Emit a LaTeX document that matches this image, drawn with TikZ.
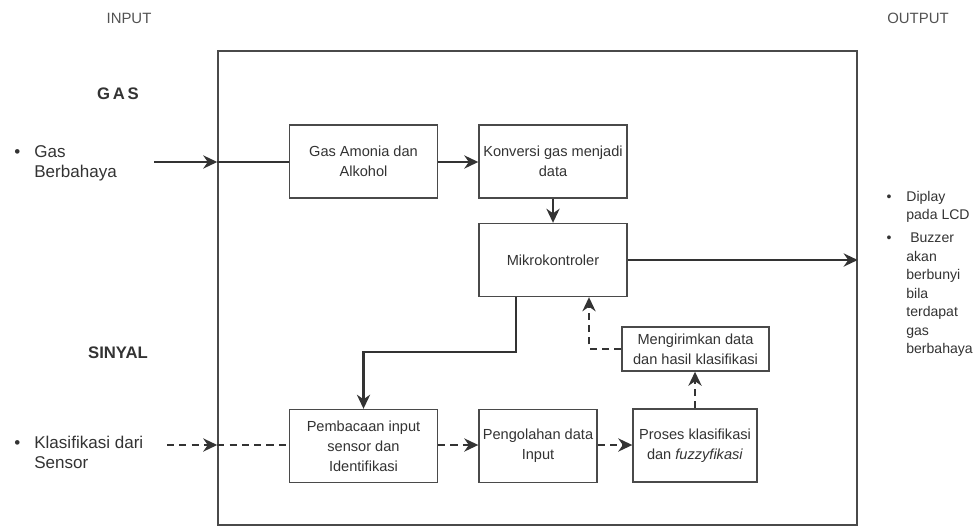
\documentclass[tikz,border=0pt]{standalone}
\usepackage{fontspec}
\setmainfont{Liberation Sans}
\usetikzlibrary{arrows.meta}
\definecolor{ink}{HTML}{333333}
\definecolor{edge}{HTML}{4A4A4A}
\begin{document}
\begin{tikzpicture}[x=0.02cm, y=-0.02cm,
    frame/.style={rectangle, draw=edge, line width=0.9pt, minimum width=12.78cm, minimum height=9.48cm, inner sep=0pt},
    box/.style={rectangle, draw=edge, line width=0.8pt, fill=white, minimum width=2.96cm, minimum height=1.46cm, align=center, text=ink, inner sep=1pt, font=\fontsize{8.3}{11.4}\selectfont},
    flow/.style={-{Stealth[length=8pt,width=7.5pt,inset=2.6pt]}, draw=ink, line width=1.3pt},
    link/.style={draw=ink, line width=1.3pt},
    dflow/.style={flow, dash pattern=on 4pt off 3pt},
    dlink/.style={link, dash pattern=on 4pt off 3pt},
    side/.style={anchor=west, align=left, text=ink, inner sep=0pt, font=\fontsize{9.7}{11.4}\selectfont},
    outlist/.style={anchor=north west, align=left, text=ink, inner sep=0pt, font=\fontsize{8}{10.5}\selectfont},
    head/.style={text=ink, font=\fontsize{9.5}{11}\selectfont\bfseries},
    caption/.style={text=ink!85, font=\fontsize{8.5}{10}\selectfont}
]
\useasboundingbox (0,0) rectangle (979,527);

% Frame and column captions
\node[frame] (frame) at (537.5,288) {};
\node[caption] (input)  at (129,18) {INPUT};
\node[caption] (output) at (918,18) {OUTPUT};
\node[head] (gas)   at (118,94)  {G\,A\,S};
\node[head] (sinyal) at (118,353) {SINYAL};

% Input and output lists
\node[side] (gastext) at (34,163) {\llap{\textbullet\hspace{8pt}}Gas\\Berbahaya};
\node[side] (senstext) at (34,452) {\llap{\textbullet\hspace{8pt}}Klasifikasi dari\\Sensor};
\node[outlist] (outtext) at (906,191) {\llap{\textbullet\hspace{8.5pt}}Diplay\\pada LCD\\[2.5pt]\llap{\textbullet\hspace{8.5pt}}\ Buzzer\\akan\\berbunyi\\bila\\terdapat\\gas\\berbahaya};

% Upper row (gas path)
\node[box] (amonia)   at (363.5,161.5) {Gas Amonia dan\\Alkohol};
\node[box] (konversi) at (553,161.5)   {Konversi gas menjadi\\data};
\node[box] (mikro)    at (553,260)     {Mikrokontroler};

% Lower row (signal path)
\node[box] (baca)   at (363.5,446) {Pembacaan input\\sensor dan\\Identifikasi};
\node[box, minimum width=2.36cm] (olah)   at (538,446)   {Pengolahan data\\Input};
\node[box, minimum width=2.48cm] (proses) at (695,445.5) {Proses klasifikasi\\dan \textit{fuzzyfikasi}};
\node[box, minimum width=2.94cm, minimum height=0.88cm] (kirim) at (695.5,349) {Mengirimkan data\\dan hasil klasifikasi};

\coordinate (gasin)  at (154,162);
\coordinate (sensin) at (167,445);
\coordinate (turn)   at (363.5,352);

% Connectors
\draw[flow] (gasin) -- (gasin -| frame.west);
\draw[link] (gasin -| frame.west) -- (gasin -| amonia.west);
\draw[flow] (amonia.east |- gasin) -- (konversi.west |- gasin);
\draw[flow] (konversi) -- (mikro);
\draw[flow] (mikro.east) -- (mikro.east -| frame.east);
\draw[flow] ([xshift=-0.74cm]mikro.south) |- (turn) -- (baca.north);

\draw[dflow] (sensin) -- (sensin -| frame.west);
\draw[dlink] (sensin -| frame.west) -- (sensin -| baca.west);
\draw[dflow] (baca.east |- sensin) -- (olah.west |- sensin);
\draw[dflow] (olah.east |- sensin) -- (proses.west |- sensin);
\draw[dflow] (proses.north) -- (proses.north |- kirim.south);
\draw[dflow] (kirim.west) -| ([xshift=0.72cm]mikro.south);

\end{tikzpicture}
\end{document}
